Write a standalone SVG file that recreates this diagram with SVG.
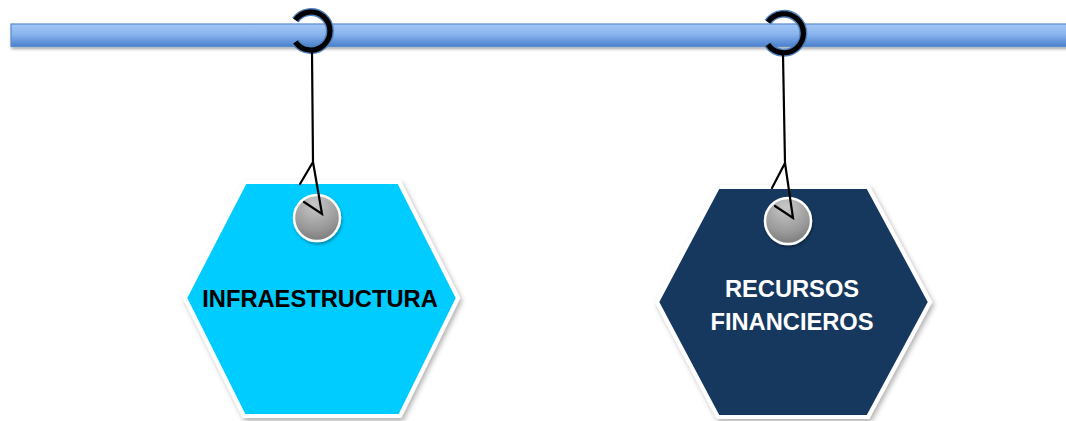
<svg xmlns="http://www.w3.org/2000/svg" width="1066" height="421" viewBox="0 0 1066 421">
  <style>
    .hex { stroke: #ffffff; stroke-width: 4; stroke-linejoin: miter; filter: url(#shadow); }
    .label { font-family: "Liberation Sans", Arial, sans-serif; font-weight: bold; font-size: 23.7px; text-anchor: middle; }
    .string { fill: none; stroke: #000000; stroke-width: 2.2; stroke-linecap: round; stroke-linejoin: miter; }
    .ring-out { fill: none; stroke: #4F81BD; stroke-width: 8; }
    .ring-in { fill: none; stroke: #000000; stroke-width: 5.2; }
    .pin { fill: url(#pinGrad); stroke: #ffffff; stroke-width: 2.5; filter: url(#shadowSmall); }
  </style>
  <defs>
    <linearGradient id="barGrad" x1="0" y1="0" x2="0" y2="1">
      <stop offset="0" stop-color="#A3C6F7"/>
      <stop offset="0.45" stop-color="#8AB4EE"/>
      <stop offset="1" stop-color="#4A80CC"/>
    </linearGradient>
    <radialGradient id="pinGrad" cx="0.45" cy="0.2" r="0.9">
      <stop offset="0" stop-color="#C8C8C8"/>
      <stop offset="0.6" stop-color="#9A9A9A"/>
      <stop offset="1" stop-color="#707070"/>
    </radialGradient>
    <filter id="shadow" x="-10%" y="-10%" width="125%" height="125%">
      <feDropShadow dx="2" dy="3" stdDeviation="2.5" flood-color="#000000" flood-opacity="0.3"/>
    </filter>
    <filter id="shadowSmall" x="-30%" y="-30%" width="170%" height="170%">
      <feDropShadow dx="1" dy="2" stdDeviation="1.5" flood-color="#000000" flood-opacity="0.35"/>
    </filter>
  </defs>

  <rect width="1066" height="421" fill="#ffffff"/>

  <g id="bar">
    <rect x="11" y="24" width="1070" height="22.5" fill="url(#barGrad)" stroke="#5B8BCB" stroke-width="1.2" filter="url(#shadowSmall)"/>
  </g>

  <g id="node-infraestructura">
    <polygon class="hex" points="245,182 399,182 458,298 400,416 244,416 185,298" fill="#00CCFF"/>
    <text class="label" x="320" y="307" fill="#000000">INFRAESTRUCTURA</text>
  </g>

  <g id="node-recursos">
    <polygon class="hex" points="718,187 868,187 930,302 868,417 718,417 657,302" fill="#17375E"/>
    <text class="label" x="792" y="297" fill="#ffffff">RECURSOS</text>
    <text class="label" x="792" y="330" fill="#ffffff">FINANCIEROS</text>
  </g>

  <g id="pins">
    <circle class="pin" cx="317" cy="218" r="23"/>
    <circle class="pin" cx="788" cy="221" r="23"/>
  </g>

  <g id="connectors">
    <path class="ring-out" d="M295.4,20.1 A19,19 0 1 1 295.4,41.9"/>
    <path class="ring-in" d="M295.4,20.1 A19,19 0 1 1 295.4,41.9"/>
    <path class="ring-out" d="M767.9,22.1 A19.5,19.5 0 1 1 767.9,44.4"/>
    <path class="ring-in" d="M767.9,22.1 A19.5,19.5 0 1 1 767.9,44.4"/>
    <path class="string" d="M312,52 L313,162 L300,184 M313,162 L322,214 L304,202"/>
    <path class="string" d="M783,55 L785,163 L772,188 M785,163 L793,218 L775,206"/>
  </g>
</svg>
